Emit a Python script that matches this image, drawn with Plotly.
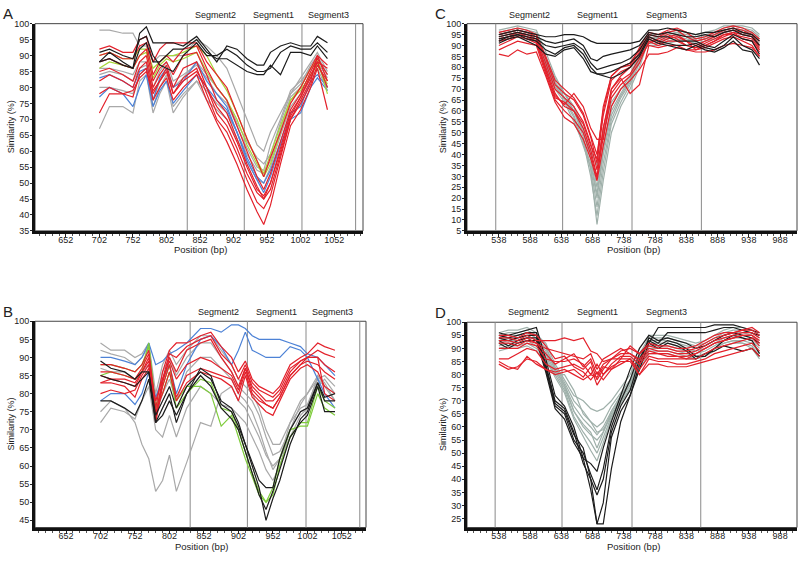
import plotly.graph_objects as go

# ---- data --------------------------------------------------------------
SEGMENTS = ["Segment2", "Segment1", "Segment3"]

# Panel A
A_X = [702, 717, 737, 752, 762, 772, 782, 792, 802, 812, 827, 847, 862,
       877, 892, 907, 922, 937, 947, 957, 972, 987, 1002, 1017, 1027, 1042]
A_GRAY = [
    [98, 98, 97, 97, 93, 93, 88, 90, 90, 90, 90, 95, 93, 90, 86, 78, 70, 62, 60, 66, 72, 78, 83, 88, 91, 85],
    [86, 86, 85, 84, 88, 88, 80, 85, 88, 82, 84, 87, 83, 78, 75, 68, 61, 55, 54, 62, 70, 79, 82, 86, 88, 83],
    [80, 80, 79, 78, 84, 86, 74, 80, 84, 74, 78, 82, 79, 75, 72, 66, 59, 54, 53, 57, 67, 77, 80, 86, 88, 80],
    [67, 74, 74, 72, 82, 84, 72, 78, 82, 72, 77, 82, 76, 73, 70, 64, 57, 51, 50, 55, 65, 74, 78, 83, 86, 79],
    [84, 85, 84, 82, 86, 87, 76, 82, 85, 80, 83, 88, 84, 80, 76, 69, 63, 58, 56, 59, 69, 78, 81, 87, 90, 84],
]
A_BLUE = [
    [83, 84, 82, 80, 85, 86, 76, 83, 86, 80, 82, 88, 82, 78, 74, 66, 57, 51, 47, 52, 62, 70, 72, 80, 83, 79],
    [77, 80, 78, 74, 80, 84, 74, 79, 82, 75, 79, 84, 80, 76, 73, 66, 58, 52, 50, 54, 63, 72, 74, 82, 84, 80],
]
A_GREEN = [
    [90, 91, 89, 89, 92, 92, 86, 88, 90, 90, 91, 93, 90, 84, 79, 72, 64, 57, 53, 59, 68, 76, 79, 84, 87, 81],
    [86, 88, 87, 86, 90, 91, 83, 87, 89, 88, 89, 91, 85, 80, 76, 70, 62, 56, 52, 56, 66, 76, 80, 86, 89, 78],
]
A_RED = [
    [92, 93, 91, 91, 95, 96, 88, 92, 94, 94, 94, 94, 88, 84, 80, 72, 64, 57, 52, 58, 66, 75, 80, 86, 90, 82],
    [90, 91, 89, 89, 93, 94, 84, 88, 90, 88, 92, 93, 86, 80, 76, 68, 60, 52, 48, 53, 63, 73, 78, 85, 89, 84],
    [88, 89, 87, 86, 90, 92, 82, 86, 88, 84, 90, 91, 84, 76, 72, 64, 56, 49, 45, 50, 61, 72, 77, 84, 88, 86],
    [85, 86, 84, 82, 88, 90, 80, 84, 87, 80, 86, 88, 80, 72, 68, 61, 53, 47, 45, 48, 59, 70, 76, 82, 90, 87],
    [82, 84, 82, 80, 86, 88, 78, 82, 85, 78, 83, 86, 78, 70, 66, 59, 51, 44, 42, 46, 58, 70, 75, 81, 87, 82],
    [78, 80, 78, 77, 84, 86, 76, 80, 83, 76, 80, 84, 76, 69, 63, 56, 48, 41, 37, 43, 56, 68, 73, 80, 86, 73],
    [72, 78, 78, 79, 83, 85, 79, 82, 86, 78, 82, 85, 80, 74, 70, 63, 55, 48, 46, 50, 60, 71, 77, 83, 88, 80],
]
A_BLACK = [
    [88, 91, 88, 86, 97, 99, 94, 94, 94, 94, 93, 96, 92, 88, 93, 92, 89, 87, 87, 91, 93, 94, 93, 93, 96, 94],
    [91, 92, 90, 89, 95, 96, 90, 87, 86, 85, 90, 94, 90, 90, 92, 90, 87, 85, 85, 86, 91, 93, 92, 92, 94, 91],
    [88, 89, 87, 86, 92, 94, 88, 88, 90, 92, 92, 95, 91, 89, 89, 87, 85, 84, 84, 87, 84, 91, 91, 90, 93, 89],
]

# Panel B
B_X = [702, 717, 737, 752, 762, 772, 782, 792, 802, 812, 827, 847, 862, 877,
       892, 902, 912, 922, 932, 942, 952, 962, 977, 992, 1002, 1017, 1027, 1042]
B_GRAY = [
    [94, 92, 92, 90, 91, 94, 80, 88, 92, 88, 92, 96, 96, 92, 88, 84, 82, 80, 76, 70, 66, 66, 72, 76, 77, 84, 85, 82],
    [92, 91, 90, 88, 90, 93, 78, 86, 90, 85, 90, 94, 94, 90, 86, 82, 80, 78, 74, 68, 63, 64, 70, 75, 76, 82, 84, 80],
    [87, 86, 86, 84, 86, 88, 74, 80, 84, 78, 86, 90, 90, 87, 84, 80, 78, 75, 70, 64, 59, 62, 68, 74, 76, 85, 83, 78],
    [75, 78, 76, 72, 66, 62, 53, 56, 63, 53, 61, 72, 71, 80, 82, 78, 76, 72, 68, 63, 60, 62, 72, 78, 80, 84, 82, 78],
    [72, 76, 75, 73, 78, 82, 70, 68, 74, 68, 76, 82, 80, 77, 76, 74, 72, 68, 64, 59, 56, 60, 70, 77, 80, 85, 82, 80],
]
B_BLUE = [
    [90, 90, 89, 88, 90, 94, 88, 89, 91, 92, 94, 98, 98, 97, 99, 99, 98, 96, 95, 95, 95, 95, 94, 93, 91, 90, 88, 85],
    [78, 80, 80, 77, 80, 86, 79, 84, 88, 80, 88, 95, 96, 93, 88, 92, 97, 92, 91, 90, 90, 90, 93, 92, 90, 84, 80, 76],
]
B_GREEN = [
    [85, 86, 85, 84, 86, 94, 76, 82, 88, 78, 82, 82, 80, 71, 74, 68, 62, 57, 52, 50, 54, 62, 70, 71, 71, 80, 76, 74],
    [88, 88, 87, 86, 88, 93, 76, 80, 86, 76, 80, 84, 83, 76, 75, 70, 64, 58, 53, 50, 52, 60, 68, 72, 72, 82, 78, 76],
]
B_RED = [
    [88, 88, 87, 86, 88, 92, 76, 86, 92, 94, 94, 96, 97, 93, 90, 86, 89, 84, 82, 81, 80, 82, 88, 90, 91, 94, 93, 92],
    [86, 86, 85, 84, 87, 91, 74, 84, 91, 90, 93, 95, 96, 91, 88, 84, 88, 83, 81, 80, 79, 81, 87, 89, 90, 92, 91, 90],
    [83, 84, 83, 82, 86, 90, 73, 83, 90, 86, 92, 94, 95, 90, 86, 82, 87, 82, 80, 78, 78, 80, 86, 89, 90, 90, 88, 86],
    [80, 81, 80, 81, 85, 88, 72, 82, 88, 79, 85, 87, 86, 85, 84, 80, 86, 80, 78, 77, 76, 79, 85, 88, 89, 88, 86, 84],
    [83, 83, 82, 79, 84, 87, 75, 80, 86, 78, 83, 86, 85, 84, 82, 78, 85, 79, 77, 75, 74, 78, 84, 87, 88, 86, 82, 80],
    [85, 84, 84, 83, 86, 89, 78, 84, 89, 84, 88, 90, 89, 87, 85, 81, 87, 81, 79, 77, 76, 79, 85, 88, 90, 90, 80, 78],
]
B_BLACK = [
    [89, 87, 86, 84, 86, 86, 72, 76, 80, 72, 80, 87, 85, 77, 75, 71, 66, 60, 54, 45, 51, 56, 66, 73, 75, 83, 78, 78],
    [78, 78, 76, 74, 78, 84, 72, 74, 78, 74, 80, 85, 82, 76, 73, 70, 64, 58, 52, 48, 53, 59, 68, 72, 74, 82, 75, 75],
    [85, 84, 83, 82, 84, 86, 74, 78, 82, 76, 82, 86, 84, 78, 76, 72, 66, 61, 56, 54, 54, 62, 70, 75, 76, 83, 79, 80],
]

# Panels C and D share the same window positions
CD_X = [538, 553, 568, 583, 598, 613, 628, 643, 658, 673, 685, 695, 705, 718, 733,
        748, 763, 778, 793, 808, 823, 838, 853, 868, 883, 898, 913, 928, 943, 955]
C_GRAY = [
    [96, 97, 98, 97, 96, 85, 75, 68, 60, 48, 33, 8, 28, 50, 62, 70, 80, 93, 94, 95, 96, 95, 94, 95, 96, 98, 99, 98, 97, 94],
    [95, 96, 97, 96, 95, 83, 73, 66, 58, 46, 30, 12, 32, 54, 64, 72, 82, 94, 93, 94, 95, 94, 93, 94, 95, 97, 98, 97, 96, 92],
    [94, 95, 96, 95, 94, 82, 72, 65, 57, 44, 34, 16, 36, 56, 66, 73, 84, 92, 92, 93, 94, 93, 92, 93, 94, 96, 97, 96, 95, 91],
    [93, 94, 95, 94, 93, 80, 70, 64, 55, 45, 36, 20, 40, 58, 67, 74, 85, 91, 91, 92, 93, 92, 91, 92, 93, 95, 96, 95, 94, 90],
    [97, 98, 99, 98, 97, 87, 76, 68, 62, 50, 38, 22, 42, 60, 68, 75, 86, 95, 95, 96, 97, 96, 95, 96, 97, 99, 99, 99, 98, 95],
    [92, 93, 94, 93, 92, 81, 71, 66, 60, 50, 40, 25, 44, 62, 70, 76, 87, 90, 90, 91, 92, 92, 93, 94, 95, 96, 97, 96, 94, 88],
    [95, 96, 97, 96, 95, 84, 73, 68, 62, 52, 42, 35, 50, 64, 70, 74, 83, 93, 94, 95, 96, 94, 92, 93, 95, 97, 98, 97, 96, 93],
]
C_RED = [
    [86, 85, 88, 86, 87, 76, 64, 57, 54, 47, 38, 28, 44, 62, 70, 74, 79, 86, 86, 87, 89, 88, 87, 87, 88, 90, 91, 90, 89, 85],
    [92, 93, 95, 94, 92, 80, 68, 62, 60, 52, 42, 30, 48, 66, 72, 76, 82, 92, 90, 92, 92, 90, 89, 91, 93, 95, 95, 94, 93, 88],
    [94, 95, 96, 95, 93, 82, 70, 66, 62, 55, 45, 33, 52, 70, 76, 80, 85, 94, 92, 94, 95, 92, 90, 92, 94, 96, 97, 96, 95, 90],
    [95, 96, 97, 96, 94, 84, 72, 68, 65, 58, 48, 36, 58, 74, 78, 80, 87, 95, 94, 96, 97, 94, 92, 93, 95, 97, 98, 97, 95, 92],
    [90, 92, 94, 93, 91, 79, 66, 64, 60, 54, 44, 38, 62, 76, 80, 82, 88, 93, 91, 93, 94, 92, 88, 90, 92, 94, 96, 95, 94, 89],
    [93, 94, 96, 94, 92, 78, 67, 63, 68, 62, 52, 47, 47, 70, 75, 68, 72, 90, 89, 90, 90, 88, 88, 89, 91, 93, 94, 92, 90, 85],
    [88, 90, 92, 91, 90, 77, 65, 60, 56, 50, 40, 29, 52, 68, 74, 77, 84, 91, 93, 95, 93, 90, 89, 90, 92, 95, 96, 93, 92, 87],
    [96, 97, 98, 97, 95, 85, 74, 70, 66, 59, 49, 40, 60, 76, 80, 81, 89, 96, 95, 97, 98, 96, 93, 94, 96, 98, 99, 98, 96, 93],
]
C_BLACK = [
    [95, 96, 97, 96, 95, 94, 94, 95, 95, 94, 92, 91, 91, 91, 91, 91, 92, 97, 97, 98, 97, 96, 95, 96, 96, 97, 98, 96, 95, 92],
    [94, 95, 96, 95, 94, 92, 91, 92, 93, 90, 84, 83, 85, 86, 87, 88, 90, 96, 95, 96, 95, 94, 94, 95, 94, 96, 97, 95, 94, 90],
    [93, 94, 95, 94, 93, 90, 89, 90, 91, 88, 82, 79, 80, 81, 82, 84, 88, 95, 94, 94, 92, 92, 92, 90, 89, 92, 95, 93, 92, 86],
    [92, 94, 95, 93, 92, 88, 86, 89, 90, 86, 80, 77, 77, 78, 80, 82, 86, 94, 92, 91, 90, 90, 91, 89, 88, 90, 94, 90, 88, 84],
    [91, 93, 94, 92, 90, 86, 85, 88, 89, 84, 78, 77, 76, 75, 77, 80, 85, 93, 91, 90, 89, 88, 90, 88, 87, 89, 92, 88, 87, 81],
]
D_GRAY = [
    [95, 96, 96, 97, 95, 92, 84, 78, 72, 70, 67, 66, 67, 70, 75, 80, 88, 94, 94, 94, 93, 92, 91, 92, 94, 96, 97, 97, 96, 94],
    [94, 95, 95, 96, 94, 90, 83, 77, 70, 66, 62, 60, 62, 68, 73, 78, 87, 93, 93, 93, 92, 91, 90, 91, 93, 95, 96, 96, 95, 93],
    [93, 94, 94, 95, 93, 89, 82, 76, 68, 63, 60, 57, 60, 66, 72, 77, 86, 92, 92, 92, 91, 90, 89, 90, 92, 94, 95, 95, 94, 91],
    [92, 93, 93, 94, 92, 88, 81, 75, 66, 60, 57, 55, 58, 65, 71, 76, 85, 91, 91, 91, 90, 89, 88, 89, 91, 93, 94, 94, 93, 90],
    [91, 92, 92, 93, 91, 87, 80, 74, 64, 58, 54, 50, 56, 64, 70, 76, 84, 90, 90, 90, 89, 88, 87, 88, 90, 92, 93, 93, 92, 88],
    [90, 91, 91, 92, 90, 86, 79, 73, 63, 56, 51, 47, 54, 63, 69, 75, 83, 89, 89, 89, 88, 87, 86, 87, 89, 91, 92, 92, 91, 87],
    [96, 97, 97, 98, 96, 91, 82, 76, 66, 61, 58, 52, 58, 66, 72, 77, 86, 95, 95, 95, 94, 93, 92, 93, 95, 97, 98, 98, 97, 95],
    [89, 90, 90, 91, 89, 85, 80, 80, 74, 65, 62, 58, 59, 64, 70, 74, 82, 88, 88, 88, 87, 86, 86, 88, 90, 92, 93, 92, 90, 86],
]
D_RED = [
    [94, 94, 93, 95, 93, 93, 93, 94, 93, 94, 89, 88, 85, 86, 89, 90, 88, 92, 91, 91, 90, 90, 91, 93, 95, 96, 96, 97, 98, 96],
    [92, 92, 91, 93, 92, 90, 89, 88, 87, 86, 88, 82, 86, 88, 90, 88, 86, 90, 89, 89, 88, 88, 89, 91, 93, 94, 95, 96, 96, 94],
    [90, 90, 90, 92, 91, 86, 85, 85, 86, 84, 80, 84, 80, 84, 87, 87, 84, 88, 88, 87, 87, 86, 88, 90, 92, 93, 94, 95, 95, 93],
    [86, 86, 88, 90, 89, 84, 82, 83, 84, 82, 85, 78, 82, 86, 86, 86, 82, 87, 86, 86, 86, 86, 86, 88, 90, 91, 92, 93, 94, 91],
    [85, 83, 82, 87, 84, 82, 80, 81, 82, 79, 83, 76, 80, 83, 85, 85, 80, 86, 85, 85, 84, 84, 85, 86, 88, 89, 90, 91, 92, 89],
    [84, 82, 83, 86, 85, 82, 81, 82, 80, 78, 80, 79, 83, 82, 84, 86, 80, 84, 84, 83, 83, 83, 84, 85, 86, 87, 88, 89, 90, 87],
    [93, 93, 92, 94, 92, 88, 84, 86, 88, 83, 86, 80, 84, 86, 88, 88, 85, 89, 88, 88, 87, 87, 88, 90, 92, 93, 94, 95, 95, 92],
    [95, 95, 94, 96, 95, 91, 86, 87, 83, 81, 78, 81, 78, 82, 86, 91, 88, 91, 90, 90, 89, 89, 90, 92, 94, 95, 96, 97, 97, 95],
]
D_BLACK = [
    [96, 95, 96, 97, 98, 86, 72, 68, 60, 48, 36, 23, 23, 44, 62, 72, 82, 92, 98, 98, 98, 98, 98, 98, 99, 99, 99, 98, 97, 96],
    [95, 94, 95, 96, 96, 84, 70, 67, 58, 46, 40, 23, 31, 56, 66, 72, 84, 94, 92, 96, 96, 96, 96, 96, 97, 98, 98, 97, 96, 95],
    [94, 93, 94, 95, 95, 83, 69, 66, 57, 52, 40, 34, 40, 58, 68, 74, 86, 93, 91, 93, 92, 90, 87, 87, 90, 93, 95, 94, 93, 88],
    [93, 91, 93, 94, 94, 82, 68, 65, 55, 50, 42, 36, 44, 60, 70, 78, 88, 92, 90, 92, 91, 89, 86, 88, 89, 91, 90, 89, 90, 87],
    [92, 90, 92, 93, 93, 81, 67, 63, 54, 48, 46, 43, 52, 62, 72, 82, 90, 95, 93, 94, 93, 92, 90, 91, 93, 95, 96, 95, 94, 92],
]

AB_TICKS = [652, 702, 752, 802, 852, 902, 952, 1002, 1052]
CD_TICKS = [538, 588, 638, 688, 738, 788, 838, 888, 938, 988]
A_BOUNDS = [833, 918, 1004, 1084]
B_BOUNDS = [832, 915, 1000, 1078]
C_BOUNDS = [533, 640, 751, 862]
D_BOUNDS = [532, 639, 751, 861]

# ---- styling -----------------------------------------------------------
W, H = 800, 561
FONT = "Liberation Sans, Arial, sans-serif"
RED = "#e3212b"
BLACK = "#1c1c1c"
GRAY = "#a9a9a9"
GRAY_CD = "#9fb0aa"
BLUE = "#4d82d6"
GREEN_A = "#a8d83a"
GREEN_B = "#7fcc3c"


def px(x):
    return x / W


def py(y):
    return 1 - y / H


def label(text, x, y, size=9, xref="paper", **kw):
    # annotation centred on (x, y); y given in pixels from the top
    return dict(text=text, x=x, y=py(y), xref=xref, yref="paper",
                xanchor=kw.pop("xanchor", "center"), yanchor="middle",
                showarrow=False, font=dict(size=size, color="#222"), **kw)


panels = [
    dict(letter="A", xs=A_X, box=(35, 363, 19, 230), xr=(606, 1095), yr=(35, 100),
         yt=list(range(35, 101, 5)), xt=AB_TICKS, bounds=A_BOUNDS, seg_y=10,
         groups=[(A_GRAY, GRAY), (A_BLUE, BLUE), (A_GREEN, GREEN_A), (A_RED, RED), (A_BLACK, BLACK)]),
    dict(letter="B", xs=B_X, box=(35, 366, 322, 532), xr=(607, 1087), yr=(43, 100),
         yt=list(range(45, 101, 5)), xt=AB_TICKS, bounds=B_BOUNDS, seg_y=313,
         groups=[(B_GRAY, GRAY), (B_BLUE, BLUE), (B_GREEN, GREEN_B), (B_RED, RED), (B_BLACK, BLACK)]),
    dict(letter="C", xs=CD_X, box=(467, 797, 19, 230), xr=(487, 1015), yr=(5, 100),
         yt=list(range(5, 101, 5)), xt=CD_TICKS, bounds=C_BOUNDS, seg_y=10,
         groups=[(C_GRAY, GRAY_CD), (C_RED, RED), (C_BLACK, BLACK)]),
    dict(letter="D", xs=CD_X, box=(467, 797, 323, 532), xr=(487, 1015), yr=(21.6, 100),
         yt=list(range(25, 101, 5)), xt=CD_TICKS, bounds=D_BOUNDS, seg_y=313,
         groups=[(D_GRAY, GRAY_CD), (D_BLACK, BLACK), (D_RED, RED)]),
]

fig = go.Figure()
annotations = []
shapes = []
layout = {}

for i, p in enumerate(panels, start=1):
    sfx = "" if i == 1 else str(i)
    xa, ya = "x" + sfx, "y" + sfx
    x0, x1, y0, y1 = p["box"]

    for lines, color in p["groups"]:
        for ys in lines:
            fig.add_trace(go.Scatter(
                x=p["xs"], y=ys, mode="lines", xaxis=xa, yaxis=ya,
                line=dict(color=color, width=1.2), hoverinfo="skip",
            ))

    layout["xaxis" + sfx] = dict(
        domain=[px(x0), px(x1)], range=list(p["xr"]), anchor=ya,
        tickmode="array", tickvals=p["xt"], ticks="outside", ticklen=3,
        tickcolor="#222", showline=True, linewidth=3, linecolor="#111",
        showgrid=False, zeroline=False, tickfont=dict(size=9, color="#222"),
        ticklabelstandoff=-5,
        minor=dict(ticks="outside", ticklen=2, tick0=p["xt"][0], dtick=10,
                   tickcolor="#555", showgrid=False),
    )
    layout["yaxis" + sfx] = dict(
        domain=[py(y1), py(y0)], range=list(p["yr"]), anchor=xa,
        tickmode="array", tickvals=p["yt"], ticks="outside", ticklen=2,
        tickcolor="#222", showline=True, linewidth=3, linecolor="#111",
        showgrid=False, zeroline=False, tickfont=dict(size=9, color="#222"),
        ticklabelstandoff=-1,
    )

    # thin frame on top / right
    shapes.append(dict(type="rect", xref=xa + " domain", yref=ya + " domain",
                       x0=0, x1=1, y0=0, y1=1, line=dict(color="#444", width=1),
                       layer="below"))
    # segment boundaries
    for b in p["bounds"]:
        shapes.append(dict(type="line", xref=xa, yref=ya + " domain", x0=b, x1=b,
                           y0=0, y1=1, line=dict(color="#8a8a8a", width=1),
                           layer="below"))
    # segment labels centred between boundaries
    for name, lo, hi in zip(SEGMENTS, p["bounds"][:-1], p["bounds"][1:]):
        annotations.append(label(name, (lo + hi) / 2, p["seg_y"], xref=xa))

    annotations.append(label(p["letter"], px(x0 - 34), y0 - 10, size=15, xanchor="left"))
    annotations.append(label("Similarity (%)", px(x0 - 24), (y0 + y1) / 2, textangle=-90))
    annotations.append(label("Position (bp)", px((x0 + x1) / 2 + 1), y1 + 19, size=9.5))

fig.update_layout(
    width=W, height=H,
    margin=dict(l=0, r=0, t=0, b=0),
    paper_bgcolor="white", plot_bgcolor="white",
    showlegend=False,
    font=dict(family=FONT),
    annotations=annotations,
    shapes=shapes,
    **layout,
)

# drop the default page margin so the figure sits at the window's corner
fig.write_html("out.html", config={"displayModeBar": False},
               post_script="document.body.style.margin='0px';")
